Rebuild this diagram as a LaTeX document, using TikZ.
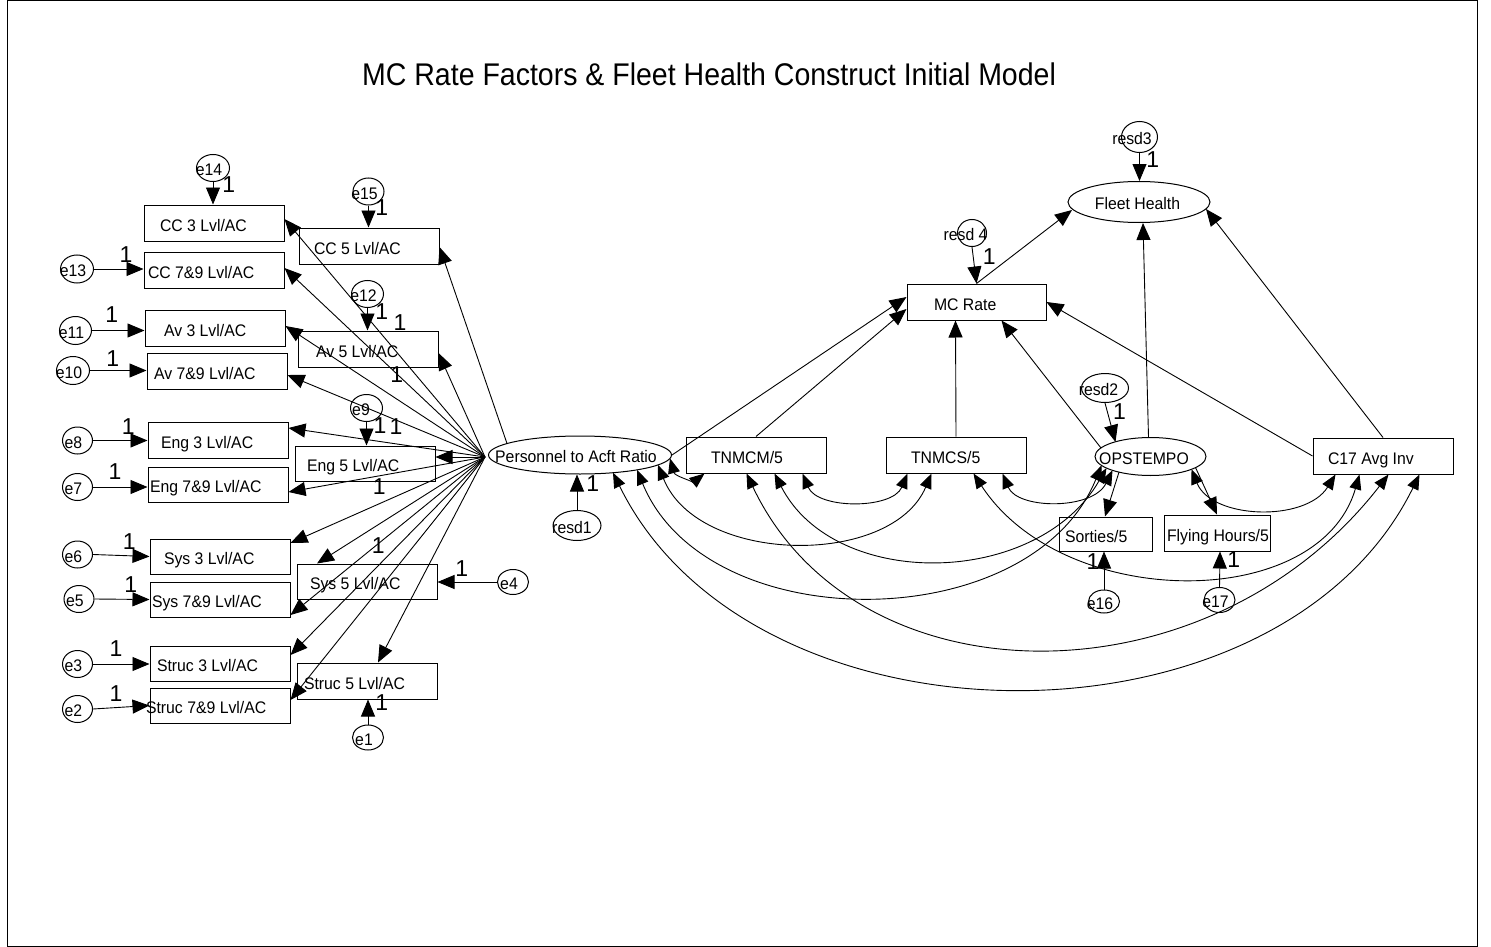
\documentclass[tikz,border=0pt]{standalone}
\usepackage{fontspec}
\setmainfont{Liberation Sans}
\usetikzlibrary{arrows.meta,calc,shapes.geometric}

\newcommand{\bxn}[6]{\node[box, minimum width=#3pt, minimum height=#4pt] (#1) at #2 {\makebox[0pt][l]{\hspace*{\dimexpr #5pt - #3pt/2\relax}\scalebox{1}[1.06]{#6}}};}
\newcommand{\eln}[6]{\node[lat, minimum width=#3pt, minimum height=#4pt] (#1) at #2 {\makebox[0pt]{\hspace*{#5pt}\scalebox{1}[1.06]{#6}}};}

\begin{document}
\begin{tikzpicture}[x=1pt,y=-1pt,
  every node/.style={font=\fontsize{15.8}{18}\selectfont},
  box/.style={draw, line width=1pt, rectangle, inner sep=0pt, text height=16pt, text depth=0pt},
  lat/.style={draw, line width=1pt, ellipse, inner sep=0pt, text height=15pt, text depth=0pt},
  arr/.style={line width=0.9pt, -{Triangle[length=17pt,width=14pt]}},
  cov/.style={line width=0.9pt, {Triangle[length=15pt,width=12pt]}-{Triangle[length=15pt,width=12pt]}},
  one/.style={font=\fontsize{23}{25}\selectfont, inner sep=0pt},
]
\useasboundingbox (0,0) rectangle (1491,947);
\draw[line width=1pt] (7,1) rectangle (1477,946);

\node[font=\fontsize{28.5}{30}\selectfont, anchor=base west, inner sep=0pt] (title) at (362,86) {\scalebox{1}[1.1]{MC Rate Factors \& Fleet Health Construct Initial Model}};

% observed boxes
\bxn{cc3}{(214,223)}{140}{36}{16}{CC 3 Lvl/AC}
\bxn{cc79}{(214,270)}{140}{36}{4}{CC 7\&9 Lvl/AC}
\bxn{cc5}{(369,246)}{140}{36}{15}{CC 5 Lvl/AC}
\bxn{av3}{(215,328)}{140}{36}{19}{Av 3 Lvl/AC}
\bxn{av79}{(217,371)}{140}{36}{7}{Av 7\&9 Lvl/AC}
\bxn{av5}{(368,349)}{140}{36}{18}{Av 5 Lvl/AC}
\bxn{eng3}{(218,440)}{140}{36}{13}{Eng 3 Lvl/AC}
\bxn{eng79}{(218,484.5)}{140}{35}{2}{Eng 7\&9 Lvl/AC}
\bxn{eng5}{(365,463.5)}{140}{35}{12}{Eng 5 Lvl/AC}
\bxn{sys3}{(220,556.5)}{140}{35}{14}{Sys 3 Lvl/AC}
\bxn{sys79}{(220,599.5)}{140}{35}{2}{Sys 7\&9 Lvl/AC}
\bxn{sys5}{(367,581.5)}{140}{35}{13}{Sys 5 Lvl/AC}
\bxn{str3}{(220,663.5)}{140}{35}{7}{Struc 3 Lvl/AC}
\bxn{str79}{(220,705.5)}{140}{35}{-4}{Struc 7\&9 Lvl/AC}
\bxn{str5}{(367,681)}{140}{36}{7}{Struc 5 Lvl/AC}
\bxn{tnmcm}{(756,455)}{140}{36}{25}{TNMCM/5}
\bxn{tnmcs}{(956,455)}{140}{36}{25}{TNMCS/5}
\bxn{c17}{(1383,456)}{140}{36}{15}{C17 Avg Inv}
\bxn{mcrate}{(976.5,302)}{139}{36}{27}{MC Rate}
\bxn{sorties}{(1105.5,534)}{93}{34}{6}{Sorties/5}
\bxn{flying}{(1217,533)}{106}{36}{3}{Flying Hours/5}

% latent and error ellipses
\eln{ptar}{(580,455)}{183}{38}{-8}{Personnel to Acft Ratio}
\eln{fleet}{(1139,202)}{142}{41}{-3}{Fleet Health}
\eln{opst}{(1150.5,456.5)}{111}{38}{-13}{OPSTEMPO}
\eln{resd1}{(577,525.5)}{48}{30}{-10}{resd1}
\eln{resd2}{(1105,388)}{47}{29}{-13}{resd2}
\eln{resd3}{(1139.5,137)}{36}{31}{-15}{resd3}
\eln{resd4}{(972,233)}{29}{27}{-13}{resd 4}
\eln{e14}{(213,168)}{33}{27}{-8}{e14}
\eln{e15}{(368.5,191.5)}{31}{27}{-8}{e15}
\eln{e13}{(77,269)}{33}{28}{-8}{e13}
\eln{e12}{(367.5,294)}{32}{27}{-8}{e12}
\eln{e11}{(75.5,330.5)}{32}{28}{-8}{e11}
\eln{e10}{(73,370.5)}{33}{28}{-8}{e10}
\eln{e9}{(366.5,408)}{32}{27}{-11}{e9}
\eln{e8}{(77.5,440.5)}{30}{27}{-8}{e8}
\eln{e7}{(77.5,487)}{30}{27}{-8}{e7}
\eln{e6}{(77.5,554.5)}{30}{27}{-8}{e6}
\eln{e5}{(79,599)}{30}{27}{-8}{e5}
\eln{e3}{(77.5,664)}{30}{27}{-8}{e3}
\eln{e2}{(77.5,709)}{30}{27}{-8}{e2}
\eln{e4}{(513,582)}{31}{25}{-8}{e4}
\eln{e1}{(368,737.5)}{31}{25}{-8}{e1}
\eln{e16}{(1104,601.5)}{31}{23}{-8}{e16}
\eln{e17}{(1219.5,600)}{31}{25}{-8}{e17}

% error arrows
\draw[arr] (e14.south) -- (e14.south |- cc3.north);
\draw[arr] (e15.south) -- (e15.south |- cc5.north);
\draw[arr] (e13.east) -- (e13.east -| cc79.west);
\draw[arr] (e12.south) -- (e12.south |- av5.north);
\draw[arr] (e11.east) -- (e11.east -| av3.west);
\draw[arr] (e10.east) -- (e10.east -| av79.west);
\draw[arr] (e9.south) -- (e9.south |- eng5.north);
\draw[arr] (e8.east) -- (e8.east -| eng3.west);
\draw[arr] (e7.east) -- (e7.east -| eng79.west);
\draw[arr] (e6.east) -- (sys3.west);
\draw[arr] (e5.east) -- (sys79.west);
\draw[arr] (e4.west) -- (e4.west -| sys5.east);
\draw[arr] (e3.east) -- (e3.east -| str3.west);
\draw[arr] (e2.east) -- (str79.west);
\draw[arr] (e1.north) -- (e1.north |- str5.south);

% loadings of Personnel to Acft Ratio
\coordinate (hub) at ($(ptar.west)+(-3,2)$);
\draw[arr] (hub) -- ($(cc3.east)+(0,-4)$);
\draw[arr] (hub) -- ($(cc79.east)+(0,-2)$);
\draw[arr] ($(ptar.center)+(-73,-11.5)$) -- ($(cc5.east)+(0,1)$);
\draw[arr] (hub) -- ($(av3.east)+(0,-2)$);
\draw[arr] (hub) -- ($(av79.east)+(0,4)$);
\draw[arr] (hub) -- ($(av5.east)+(0,4)$);
\draw[arr] (hub) -- ($(eng3.east)+(0,-12)$);
\draw[arr] (hub) -- ($(eng79.east)+(0,7.5)$);
\draw[arr] (hub) -- ($(eng5.east)+(0,-6.5)$);
\draw[arr] (hub) -- ($(sys3.east)+(0,-13.5)$);
\draw[arr] (hub) -- ($(sys5.north)+(-50,0)$);
\draw[arr] (hub) -- ($(sys79.east)+(0,15.5)$);
\draw[arr] (hub) -- ($(str3.east)+(0,-8.5)$);
\draw[arr] (hub) -- ($(str79.east)+(0,-5.5)$);
\draw[arr] (hub) -- ($(str5.north)+(11,0)$);
\draw[arr] (resd1.north) -- (resd1.north |- ptar.south);

% structural paths
\draw[arr] (ptar.east) -- ($(mcrate.west)+(0,-5)$);
\draw[arr] (tnmcm.north) -- ($(mcrate.west)+(0,7)$);
\draw[arr] (tnmcs.north) -- ($(mcrate.south)+(-21,0)$);
\draw[arr] ($(opst.center)+(-49.5,-8.5)$) -- ($(mcrate.south)+(25,0)$);
\draw[arr] (c17.west) -- (mcrate.east);
\draw[arr] (mcrate.north) -- ($(fleet.center)+(-67,8)$);
\draw[arr] ($(opst.north)+(-2,0)$) -- ($(fleet.south)+(4,0)$);
\draw[arr] (c17.north) -- ($(fleet.center)+(67,7)$);
\draw[arr] (resd4.south) -- (mcrate.north);
\draw[arr] (resd3.south) -- (resd3.south |- fleet.north);
\draw[arr] (resd2.south) -- ($(opst.center)+(-35,-14.5)$);
\draw[arr] ($(opst.center)+(-31.5,15.6)$) -- ($(sorties.north)+(-0.5,0)$);
\draw[arr] ($(opst.center)+(45,11)$) -- (flying.north);
\draw[arr] (e16.north) -- (e16.north |- sorties.south);
\draw[arr] (e17.north) -- ($(flying.south)+(3,0)$);

% covariance end points
\coordinate (pC) at ($(ptar.center)+(33,17.7)$);
\coordinate (pB) at ($(ptar.center)+(57,14.9)$);
\coordinate (pA) at ($(ptar.center)+(78,9.9)$);
\coordinate (p4) at ($(ptar.center)+(90,3.4)$);
\coordinate (t4) at ($(tnmcm.south west)+(19,0)$);
\coordinate (tD) at ($(tnmcm.south west)+(61,0)$);
\coordinate (tE) at ($(tnmcm.south west)+(89,0)$);
\coordinate (t1) at ($(tnmcm.south west)+(117,0)$);
\coordinate (s1) at ($(tnmcs.south west)+(22,0)$);
\coordinate (sA) at ($(tnmcs.south west)+(46,0)$);
\coordinate (sF) at ($(tnmcs.south west)+(88,0)$);
\coordinate (s2) at ($(tnmcs.south west)+(117,0)$);
\coordinate (o2) at ($(opst.center)+(-38,13.8)$);
\coordinate (oE) at ($(opst.center)+(-44,11.6)$);
\coordinate (oB) at ($(opst.center)+(-49,8.9)$);
\coordinate (o3) at ($(opst.center)+(41,12.8)$);
\coordinate (c3) at ($(c17.south west)+(23,0)$);
\coordinate (cF) at ($(c17.south west)+(47,0)$);
\coordinate (cD) at ($(c17.south west)+(76,0)$);
\coordinate (cC) at ($(c17.south west)+(107,0)$);

\draw[cov] (p4) .. controls +(5,18) and +(-10,8) .. (t4);
\draw[cov] (t1) .. controls +(15,36) and +(-15,36) .. (s1);
\draw[cov] (pA) .. controls +(40,100) and +(-40,94) .. (sA);
\draw[cov] (pB) .. controls +(70,170) and +(-70,172) .. (oB);
\draw[cov] (pC) .. controls +(140,285) and +(-140,285) .. (cC);
\draw[cov] (tD) .. controls +(110,232) and +(-180,232) .. (cD);
\draw[cov] (tE) .. controls +(60,117) and +(-70,120) .. (oE);
\draw[cov] (sF) .. controls +(90,138) and +(-40,138) .. (cF);
\draw[cov] (s2) .. controls +(15,36) and +(-20,40) .. (o2);
\draw[cov] (o3) .. controls +(20,50) and +(-30,48) .. (c3);

% fixed weights
\node[one] (w14) at (228.7,185) {1};
\node[one] (w15) at (381.7,208) {1};
\node[one] (w13) at (126,255) {1};
\node[one] (w12) at (381.7,311.7) {1};
\node[one] (wa) at (400,322.7) {1};
\node[one] (w11) at (111.7,315) {1};
\node[one] (w10) at (112.7,358.3) {1};
\node[one] (wb) at (396.7,375) {1};
\node[one] (w9) at (380,426) {1};
\node[one] (wc) at (396,426.7) {1};
\node[one] (w8) at (128.3,426.7) {1};
\node[one] (w7) at (115,471.7) {1};
\node[one] (wd) at (379.3,487) {1};
\node[one] (w6) at (129.3,541.7) {1};
\node[one] (w5) at (130.7,585) {1};
\node[one] (wf) at (378.3,546) {1};
\node[one] (w4) at (461.7,568.3) {1};
\node[one] (w3) at (116,648.3) {1};
\node[one] (w2) at (116,693.3) {1};
\node[one] (w1) at (381.7,703) {1};
\node[one] (wr1) at (592.7,484) {1};
\node[one] (wr4) at (989.3,256.7) {1};
\node[one] (wr3) at (1152.7,159.3) {1};
\node[one] (wr2) at (1119.4,411.7) {1};
\node[one] (w16) at (1092.9,561.7) {1};
\node[one] (w17) at (1233.7,560) {1};
\end{tikzpicture}
\end{document}
